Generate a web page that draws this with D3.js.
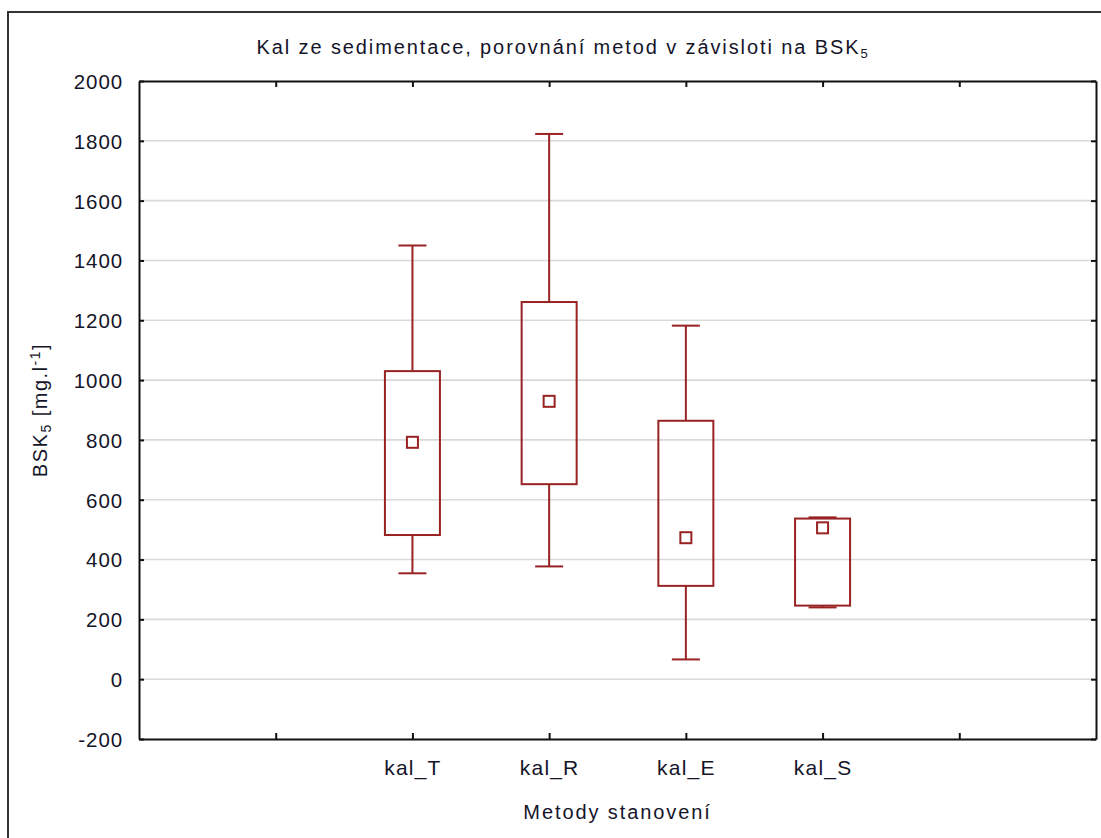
<!DOCTYPE html>
<html>
<head>
<meta charset="utf-8">
<script src="https://cdn.jsdelivr.net/npm/d3@7"></script>
<style>
  html, body { margin: 0; padding: 0; background: #fff; }
  svg { display: block; }
  text { font-family: "Liberation Sans", Arial, sans-serif; fill: #15152a; }
</style>
</head>
<body>
<svg id="chart" width="1101" height="838"></svg>
<script>
// ---- data ----
const categories = ["kal_T", "kal_R", "kal_E", "kal_S"];
const whiskerMin = [354, 377, 66, 240];
const boxLow     = [482, 652, 312, 246];
const meanVal    = [792, 929, 473, 506];
const boxHigh    = [1030, 1261, 864, 537];
const whiskerMax = [1450, 1823, 1182, 541];
const yTicks = [-200, 0, 200, 400, 600, 800, 1000, 1200, 1400, 1600, 1800, 2000];
const xSlots = ["", ...categories, " "];

const titleText = "Kal ze sedimentace, porovnání metod v  závisloti na BSK";
const xTitle = "Metody stanovení";

// ---- layout ----
const svg = d3.select("#chart");
const L = 139, R = 1096, T = 81, B = 739;
const boxColor = "#992222";

// outer frame (extends beyond the picture on right/bottom)
svg.append("rect").attr("x", 8).attr("y", 12).attr("width", 1300).attr("height", 1000)
  .attr("fill", "none").attr("stroke", "#333").attr("stroke-width", 2);

const x = d3.scalePoint().domain(xSlots).range([L, R]).padding(1);
const y = d3.scaleLinear().domain([-200, 2000]).range([B, T]);

// grid
svg.append("g").selectAll("line").data(yTicks.filter(v => v > -200 && v < 2000)).join("line")
  .attr("x1", L).attr("x2", R).attr("y1", d => y(d)).attr("y2", d => y(d))
  .attr("stroke", "#d9d9d9").attr("stroke-width", 1.6);

// axes
const fmt = d => d.trim() === "" ? "" : d;
const gB = svg.append("g").attr("transform", `translate(0,${B})`)
  .call(d3.axisBottom(x).tickSizeInner(-6).tickSizeOuter(0).tickPadding(21).tickFormat(fmt));
const gT = svg.append("g").attr("transform", `translate(0,${T})`)
  .call(d3.axisTop(x).tickSizeInner(-6).tickSizeOuter(0).tickFormat(""));
const gL = svg.append("g").attr("transform", `translate(${L},0)`)
  .call(d3.axisLeft(y).tickValues(yTicks).tickSizeInner(-5).tickSizeOuter(0).tickPadding(16)
    .tickFormat(d => String(d)));
const gR = svg.append("g").attr("transform", `translate(${R},0)`)
  .call(d3.axisRight(y).tickValues(yTicks).tickSizeInner(-5).tickSizeOuter(0).tickFormat(""));
[gB, gT, gL, gR].forEach(g => {
  g.select(".domain").attr("stroke", "#111").attr("stroke-width", 2);
  g.selectAll(".tick line").attr("stroke", "#111").attr("stroke-width", 2);
  g.selectAll("text").attr("font-size", 20).attr("fill", "#15152a")
    .attr("font-family", "Liberation Sans, Arial, sans-serif");
});
gB.selectAll("text").attr("font-size", 21).attr("letter-spacing", 1.2);
gL.selectAll("text").attr("dy", "0.36em").attr("font-size", 20.5).attr("letter-spacing", 0.9);

// boxes
const boxW = 55, capW = 28, mS = 11;
const idx = d3.range(categories.length);
const gBox = svg.append("g").attr("stroke", boxColor).attr("stroke-width", 2).attr("fill", "none");
gBox.selectAll(".wU").data(idx).join("line")
  .attr("x1", i => x(categories[i])).attr("x2", i => x(categories[i]))
  .attr("y1", i => y(boxHigh[i])).attr("y2", i => y(whiskerMax[i]));
gBox.selectAll(".wD").data(idx).join("line")
  .attr("x1", i => x(categories[i])).attr("x2", i => x(categories[i]))
  .attr("y1", i => y(boxLow[i])).attr("y2", i => y(whiskerMin[i]));
gBox.selectAll(".cU").data(idx).join("line")
  .attr("x1", i => x(categories[i]) - capW / 2).attr("x2", i => x(categories[i]) + capW / 2)
  .attr("y1", i => y(whiskerMax[i])).attr("y2", i => y(whiskerMax[i]));
gBox.selectAll(".cD").data(idx).join("line")
  .attr("x1", i => x(categories[i]) - capW / 2).attr("x2", i => x(categories[i]) + capW / 2)
  .attr("y1", i => y(whiskerMin[i])).attr("y2", i => y(whiskerMin[i]));
gBox.selectAll(".bx").data(idx).join("rect")
  .attr("x", i => x(categories[i]) - boxW / 2).attr("width", boxW)
  .attr("y", i => y(boxHigh[i])).attr("height", i => y(boxLow[i]) - y(boxHigh[i]))
  .attr("fill", "none");
gBox.selectAll(".mn").data(idx).join("rect")
  .attr("x", i => x(categories[i]) - mS / 2).attr("width", mS)
  .attr("y", i => y(meanVal[i]) - mS / 2).attr("height", mS)
  .attr("fill", "#fff");

// title
const tt = svg.append("text").attr("x", 563).attr("y", 54).attr("text-anchor", "middle")
  .attr("font-size", 20).attr("letter-spacing", 1.9).attr("fill", "#15152a");
tt.append("tspan").text(titleText);
tt.append("tspan").attr("font-size", 13).attr("dy", 4).text("5");

// x title
svg.append("text").attr("x", (L + R) / 2).attr("y", 819).attr("text-anchor", "middle")
  .attr("font-size", 20).attr("letter-spacing", 1.9).text(xTitle);

// y title
const yt = svg.append("text").attr("transform", `translate(47,${(T + B) / 2}) rotate(-90)`)
  .attr("text-anchor", "middle").attr("font-size", 20).attr("letter-spacing", 1.5);
yt.append("tspan").text("BSK");
yt.append("tspan").attr("font-size", 14).attr("dy", 4).text("5");
yt.append("tspan").attr("dy", -4).text(" [mg.l");
yt.append("tspan").attr("font-size", 14).attr("dy", -7).text("-1");
yt.append("tspan").attr("dy", 7).text("]");
</script>
</body>
</html>
